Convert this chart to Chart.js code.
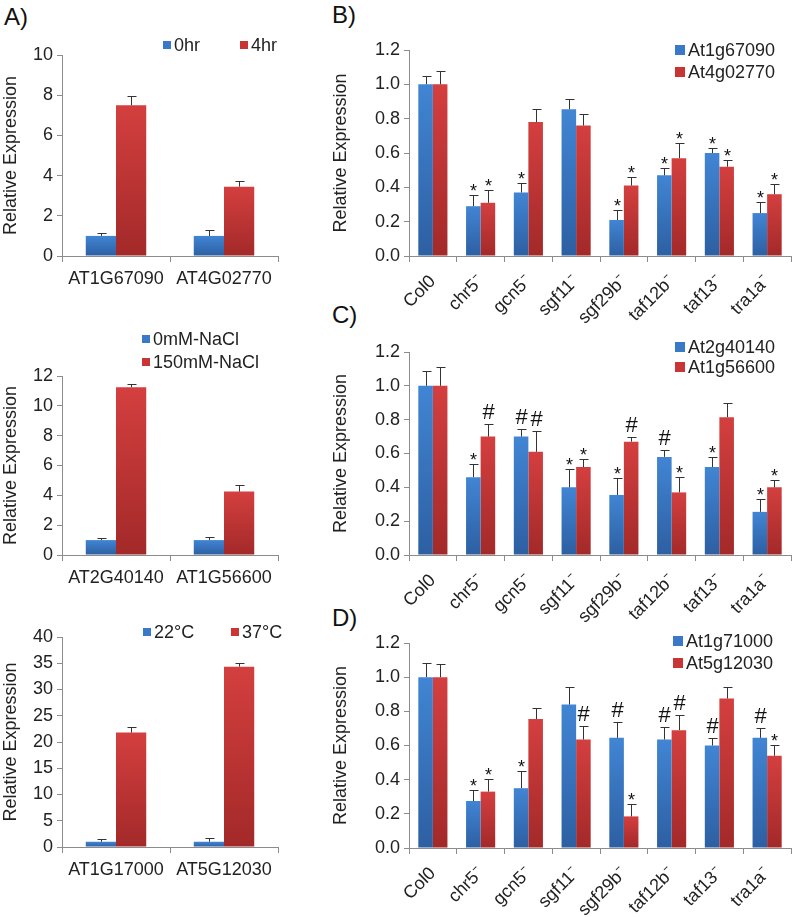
<!DOCTYPE html>
<html lang="en">
<head>
<meta charset="UTF-8">
<title>Relative Expression</title>
<script src="https://cdn.jsdelivr.net/npm/chart.js"></script>
<style>
  body { margin: 0; background: #fff; font-family: "Liberation Sans", Arial, sans-serif; }
  #page { position: relative; width: 792px; height: 917px; overflow: hidden; }
  canvas { position: absolute; }
  .tag { position: absolute; font-size: 24px; color: #111; line-height: 1; }
</style>
</head>
<body>
<div id="page">
  <div class="tag" style="left:4px;top:5px">A)</div>
  <div class="tag" style="left:332px;top:3px">B)</div>
  <div class="tag" style="left:332px;top:303px">C)</div>
  <div class="tag" style="left:332px;top:606px">D)</div>
  <canvas id="a1" width="292" height="270" style="left:0;top:30px"></canvas>
  <canvas id="a2" width="292" height="270" style="left:0;top:320px"></canvas>
  <canvas id="a3" width="292" height="290" style="left:0;top:610px"></canvas>
  <canvas id="b" width="462" height="295" style="left:330px;top:30px"></canvas>
  <canvas id="c" width="462" height="297" style="left:330px;top:330px"></canvas>
  <canvas id="d" width="462" height="297" style="left:330px;top:620px"></canvas>
</div>
<script>
// --- data ---
const timeGenes = ['AT1G67090', 'AT4G02770'];
const time0hr = [1.0, 1.0];
const time0hrErr = [0.13, 0.3];
const time4hr = [7.5, 3.45];
const time4hrErr = [0.45, 0.27];

const saltGenes = ['AT2G40140', 'AT1G56600'];
const salt0mM = [1.0, 1.0];
const salt0mMErr = [0.13, 0.2];
const salt150mM = [11.25, 4.25];
const salt150mMErr = [0.22, 0.47];

const tempGenes = ['AT1G17000', 'AT5G12030'];
const temp22 = [1.0, 1.0];
const temp22Err = [0.55, 0.75];
const temp37 = [21.8, 34.35];
const temp37Err = [1.0, 0.65];

const mutants = ['Col0', 'chr5\u207B', 'gcn5\u207B', 'sgf11\u207B', 'sgf29b\u207B', 'taf12b\u207B', 'taf13\u207B', 'tra1a\u207B'];

const b67090 = [1.0, 0.29, 0.37, 0.855, 0.21, 0.47, 0.6, 0.25];
const b67090Err = [0.05, 0.065, 0.055, 0.06, 0.06, 0.04, 0.03, 0.065];
const b67090Sig = ['', '*', '*', '', '*', '*', '*', '*'];
const b02770 = [1.0, 0.31, 0.78, 0.76, 0.41, 0.57, 0.52, 0.36];
const b02770Err = [0.08, 0.075, 0.075, 0.065, 0.05, 0.09, 0.04, 0.06];
const b02770Sig = ['', '*', '', '', '*', '*', '*', '*'];

const c40140 = [1.0, 0.46, 0.70, 0.40, 0.355, 0.58, 0.52, 0.255];
const c40140Err = [0.09, 0.08, 0.045, 0.11, 0.1, 0.04, 0.06, 0.075];
const c40140Sig = ['', '*', '#', '*', '*', '#', '*', '*'];
const c56600 = [1.0, 0.70, 0.61, 0.52, 0.67, 0.37, 0.815, 0.40];
const c56600Err = [0.11, 0.075, 0.125, 0.05, 0.03, 0.09, 0.085, 0.045];
const c56600Sig = ['', '#', '#', '*', '#', '*', '', '*'];

const d71000 = [1.0, 0.275, 0.35, 0.84, 0.645, 0.635, 0.6, 0.645];
const d71000Err = [0.085, 0.065, 0.1, 0.105, 0.09, 0.075, 0.045, 0.06];
const d71000Sig = ['', '*', '*', '', '#', '#', '#', '#'];
const d12030 = [1.0, 0.33, 0.755, 0.635, 0.185, 0.69, 0.875, 0.54];
const d12030Err = [0.075, 0.075, 0.065, 0.08, 0.07, 0.09, 0.07, 0.065];
const d12030Sig = ['', '*', '', '#', '*', '#', '', '*'];

const FONT = '"Liberation Sans", Arial, sans-serif';
Chart.defaults.font.family = FONT;
Chart.defaults.color = '#222';

const BLUE = ['#4185d4', '#2d5fa2', '#3a78c8'];
const RED = ['#d43f3f', '#a32929', '#c93434'];
const AXIS = '#8c8c8c';

// vertical gradient inside each bar
function barFill(c) {
  return function (ctx) {
    const chart = ctx.chart;
    if (ctx.type !== 'data' || !chart.chartArea) return c[2];
    const y = chart.scales.y;
    const g = chart.ctx.createLinearGradient(0, y.getPixelForValue(ctx.raw), 0, y.getPixelForValue(0));
    g.addColorStop(0, c[0]);
    g.addColorStop(1, c[1]);
    return g;
  };
}

// upper error bars + significance marks
const errorBars = {
  id: 'errorBars',
  afterDatasetsDraw(chart) {
    const ctx = chart.ctx;
    const y = chart.scales.y;
    ctx.save();
    chart.data.datasets.forEach((ds, di) => {
      chart.getDatasetMeta(di).data.forEach((bar, i) => {
        const x = Math.round(bar.x) + 0.5;
        const top = Math.round(y.getPixelForValue(ds.data[i] + ds.errors[i])) + 0.5;
        ctx.strokeStyle = '#333';
        ctx.lineWidth = 1;
        ctx.beginPath();
        ctx.moveTo(x, bar.y);
        ctx.lineTo(x, top);
        ctx.moveTo(x - 4, top);
        ctx.lineTo(x + 5, top);
        ctx.stroke();
        const m = ds.marks ? ds.marks[i] : '';
        if (m) {
          ctx.fillStyle = '#111';
          ctx.textAlign = 'center';
          ctx.textBaseline = 'alphabetic';
          if (m === '#') {
            ctx.font = '22px ' + FONT;
            ctx.fillText(m, x, top - 6);
          } else {
            ctx.font = '18px ' + FONT;
            ctx.fillText(m, x, top + 1);
          }
        }
      });
    });
    ctx.restore();
  }
};

// small square legend at fixed spots
const keyBoxes = {
  id: 'keyBoxes',
  afterDraw(chart, args, opts) {
    if (!opts.at) return;
    const ctx = chart.ctx;
    const sq = opts.size || 10;
    ctx.save();
    ctx.font = '18px ' + FONT;
    ctx.textBaseline = 'middle';
    ctx.textAlign = 'left';
    chart.data.datasets.forEach((ds, i) => {
      const [x, y] = opts.at[i];
      ctx.fillStyle = ds.keyColor;
      ctx.fillRect(x, y - sq / 2, sq, sq);
      ctx.fillStyle = '#222';
      ctx.fillText(ds.label, x + sq + 3, y + 1);
    });
    ctx.restore();
  }
};

function drawPanel(id, cats, series, o) {
  new Chart(document.getElementById(id), {
    type: 'bar',
    data: {
      labels: cats,
      datasets: series.map(s => ({
        label: s.label,
        data: s.values,
        errors: s.errors,
        marks: s.marks,
        keyColor: s.color[2],
        backgroundColor: barFill(s.color),
        borderWidth: 0,
        categoryPercentage: o.catPct,
        barPercentage: 1
      }))
    },
    options: {
      responsive: false,
      animation: false,
      layout: { padding: { top: o.padTop, right: o.padRight, left: 0, bottom: 0 } },
      plugins: {
        legend: { display: false },
        tooltip: { enabled: false },
        keyBoxes: { at: o.keyAt, size: o.keySize }
      },
      scales: {
        x: {
          grid: { offset: true, drawOnChartArea: false, tickLength: 6, color: AXIS },
          border: { color: AXIS },
          ticks: { font: { size: 18 }, autoSkip: false, minRotation: o.rot, maxRotation: o.rot, padding: o.rot ? 9 : 6 },
          afterFit: s => { s.height = o.xAxisH; }
        },
        y: {
          min: 0,
          max: o.yMax,
          ticks: { stepSize: o.step, font: { size: 18 }, padding: 4, callback: v => v.toFixed(o.dec) },
          grid: { drawOnChartArea: false, tickLength: 5, color: AXIS },
          border: { color: AXIS },
          title: { display: true, text: 'Relative Expression', font: { size: 18 }, padding: { top: 0, bottom: 0 } },
          afterFit: s => { s.width = o.axisW; }
        }
      }
    },
    plugins: [errorBars, keyBoxes]
  });
}

const leftOpts = { catPct: 0.56, axisW: 62, padRight: 14, rot: 0, dec: 0, keySize: 8 };
const rightOpts = { catPct: 0.61, axisW: 79, padRight: 1, rot: 45, dec: 1, yMax: 1.2, step: 0.2, keySize: 10 };

drawPanel('a1', timeGenes, [
  { label: '0hr', values: time0hr, errors: time0hrErr, color: BLUE },
  { label: '4hr', values: time4hr, errors: time4hrErr, color: RED }
], Object.assign({}, leftOpts, { yMax: 10, step: 2, padTop: 25, xAxisH: 44, keyAt: [[163, 15], [240, 15]] }));

drawPanel('a2', saltGenes, [
  { label: '0mM-NaCl', values: salt0mM, errors: salt0mMErr, color: BLUE },
  { label: '150mM-NaCl', values: salt150mM, errors: salt150mMErr, color: RED }
], Object.assign({}, leftOpts, { yMax: 12, step: 2, padTop: 56, xAxisH: 35, keyAt: [[142, 19], [142, 42]] }));

drawPanel('a3', tempGenes, [
  { label: '22\u00B0C', values: temp22, errors: temp22Err, color: BLUE },
  { label: '37\u00B0C', values: temp37, errors: temp37Err, color: RED }
], Object.assign({}, leftOpts, { yMax: 40, step: 5, padTop: 27, xAxisH: 53, keyAt: [[143, 22], [231, 22]] }));

drawPanel('b', mutants, [
  { label: 'At1g67090', values: b67090, errors: b67090Err, marks: b67090Sig, color: BLUE },
  { label: 'At4g02770', values: b02770, errors: b02770Err, marks: b02770Sig, color: RED }
], Object.assign({}, rightOpts, { padTop: 20, xAxisH: 69, keyAt: [[345, 20], [345, 42]] }));

drawPanel('c', mutants, [
  { label: 'At2g40140', values: c40140, errors: c40140Err, marks: c40140Sig, color: BLUE },
  { label: 'At1g56600', values: c56600, errors: c56600Err, marks: c56600Sig, color: RED }
], Object.assign({}, rightOpts, { padTop: 22, xAxisH: 72, keyAt: [[345, 17], [345, 37]] }));

drawPanel('d', mutants, [
  { label: 'At1g71000', values: d71000, errors: d71000Err, marks: d71000Sig, color: BLUE },
  { label: 'At5g12030', values: d12030, errors: d12030Err, marks: d12030Sig, color: RED }
], Object.assign({}, rightOpts, { padTop: 23, xAxisH: 69, keyAt: [[343, 21], [343, 43]] }));
</script>
</body>
</html>
